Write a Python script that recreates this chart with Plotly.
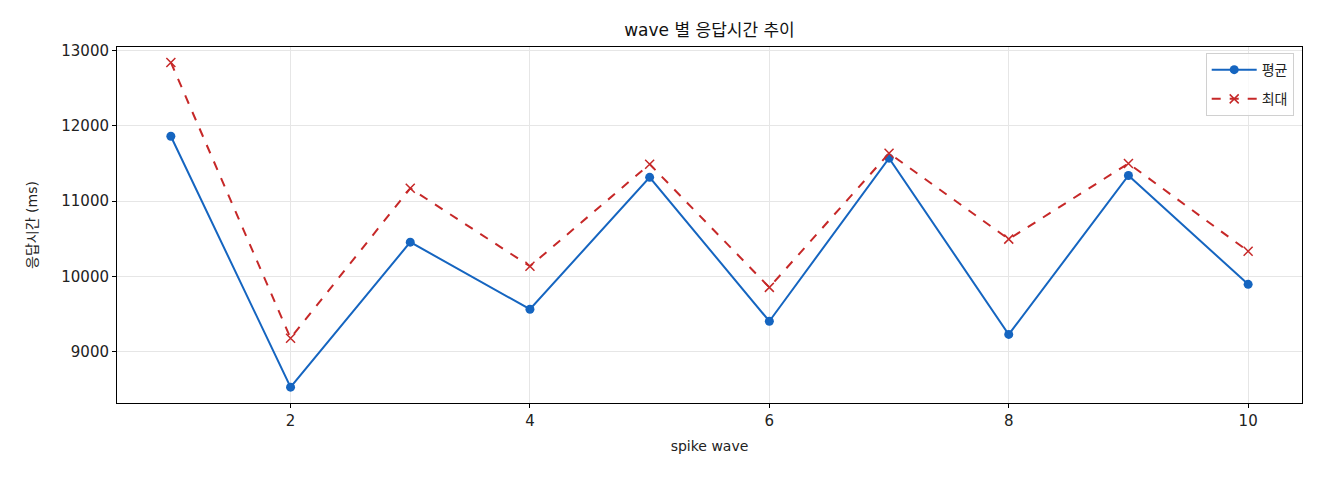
import plotly.graph_objects as go

# wave 별 응답시간 (ms)
waves = [1, 2, 3, 4, 5, 6, 7, 8, 9, 10]
avg_ms = [11860, 8530, 10455, 9565, 11315, 9405, 11570, 9230, 11340, 9895]
max_ms = [12840, 9180, 11170, 10135, 11490, 9855, 11635, 10495, 11500, 10335]

FONT = "DejaVu Sans, Noto Sans CJK KR, sans-serif"

fig = go.Figure()
fig.add_trace(go.Scatter(x=waves, y=avg_ms, mode="lines+markers", name="평균",
                         legendgroup="avg",
                         line=dict(color="#1565C0", width=2),
                         marker=dict(symbol="circle", size=9, color="#1565C0")))
fig.add_trace(go.Scatter(x=waves, y=max_ms, mode="lines+markers", name="최대",
                         legendgroup="max",
                         line=dict(color="#C62828", width=2, dash="dash"),
                         marker=dict(symbol="x-thin", size=9, line=dict(color="#C62828", width=1.5))))

axis = dict(showline=True, linecolor="black", linewidth=1, mirror=True,
            showgrid=True, gridcolor="#e6e6e6", gridwidth=1, zeroline=False,
            ticks="outside", ticklen=4, tickcolor="black",
            tickfont=dict(size=15, color="#222"))

fig.update_layout(
    width=1320, height=480,
    margin=dict(l=109, r=26, t=39, b=85),
    paper_bgcolor="white", plot_bgcolor="white",
    font=dict(family=FONT, color="#222"),
    title=dict(text="wave 별 응답시간 추이", xref="paper", x=0.5, xanchor="center",
               y=0.954, yanchor="middle", font=dict(size=17, color="#111")),
    xaxis=dict(axis, range=[0.55, 10.45], tickvals=[2, 4, 6, 8, 10],
               title=dict(text="spike wave", font=dict(size=14), standoff=12)),
    yaxis=dict(axis, range=[8320, 13045], tickvals=[9000, 10000, 11000, 12000, 13000],
               tickformat="d",
               title=dict(text="응답시간 (ms)", font=dict(size=14), standoff=20)),
    legend=dict(x=0.993, y=0.983, xanchor="right", yanchor="top",
                bgcolor="rgba(255,255,255,0.8)", bordercolor="#d0d0d0", borderwidth=1,
                font=dict(size=14), itemwidth=45, traceorder="grouped", tracegroupgap=8),
    showlegend=True,
)

fig.write_html("out.html")
